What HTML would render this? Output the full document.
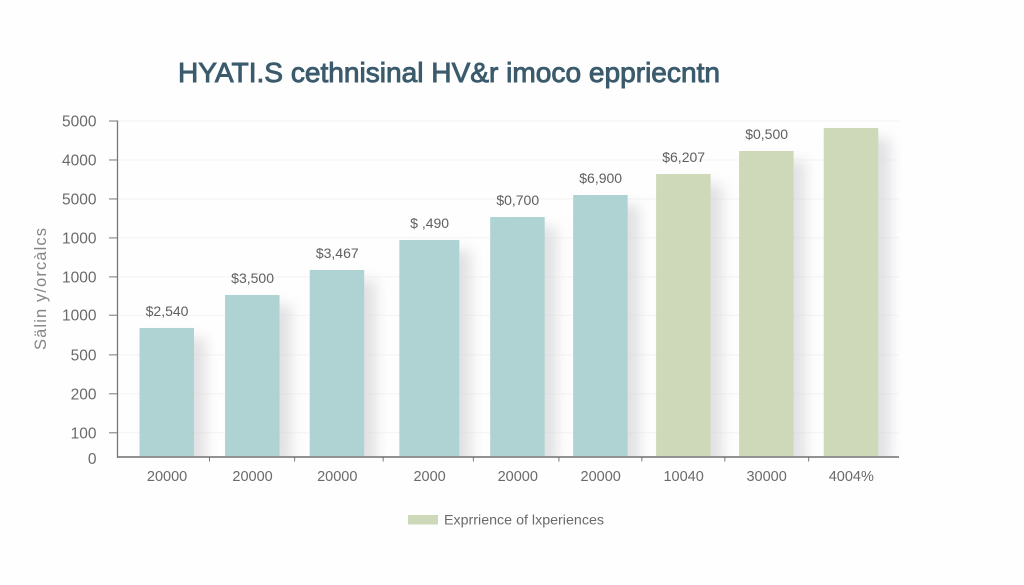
<!DOCTYPE html>
<html>
<head>
<meta charset="utf-8">
<title>Salary chart</title>
<style>
html,body{margin:0;padding:0;background:#fefefe;}
svg{display:block;}
text{font-family:"Liberation Sans",sans-serif;}
</style>
</head>
<body>
<svg id="chart" width="1024" height="585" viewBox="0 0 1024 585" xmlns="http://www.w3.org/2000/svg">
<defs>
<filter id="soft" x="-50%" y="-20%" width="200%" height="140%"><feGaussianBlur stdDeviation="6.5"/></filter>
<clipPath id="above-axis"><rect x="117" y="100" width="800" height="356"/></clipPath>
</defs>
<rect x="0" y="0" width="1024" height="585" fill="#fefefe"/>
<text x="178" y="82" font-size="28" fill="#3b5b6d" stroke="#3b5b6d" stroke-width="0.9" textLength="542" lengthAdjust="spacingAndGlyphs">HYATI.S cethnisinal HV&amp;r imoco eppriecntn</text>
<text transform="translate(46,350) rotate(-90)" font-size="16.5" fill="#858585" textLength="122" lengthAdjust="spacing">Sälin y/orcàlcs</text>
<g id="grid"></g>
<g id="shadows" clip-path="url(#above-axis)"></g>
<g id="bars"></g>
<g id="values"></g>
<g id="axes"></g>
<rect x="408" y="515" width="30" height="9.5" fill="#cdd9b8"/>
<text x="444" y="524.5" font-size="13.5" fill="#6a6a6a" textLength="160" lengthAdjust="spacingAndGlyphs">Exprrience of lxperiences</text>
</svg>
<script>
const categories = ["20000","20000","20000","2000","20000","20000","10040","30000","4004%"];
const experienceStops = [0, 1, 1.99, 3.07, 4.1, 5.07, 6.04, 7.01, 8];
const salaryValues = [1920, 2411, 2783, 3229, 3571, 3899, 4211, 4554, 4896];
const printedValues = ["$2,540","$3,500","$3,467","$ ,490","$0,700","$6,900","$6,207","$0,500",""];
const seriesGroups = ["teal","teal","teal","teal","teal","teal","green","green","green"];
const tickValues = [5000, 4420, 3840, 3260, 2680, 2110, 1520, 940, 360, 0];
const tickLabels = ["5000","4000","5000","1000","1000","1000","500","200","100","0"];

const NS = "http://www.w3.org/2000/svg";
const baseY = 457, plotTop = 121, maxValue = 5000;
const firstX = 166.75, lastX = 851;
const maxStop = 8;
function yScale(v){ return baseY - (v / maxValue) * (baseY - plotTop); }
function xScale(s){ return firstX + (s / maxStop) * (lastX - firstX); }
function make(tag, attrs, parent, content){
  const el = document.createElementNS(NS, tag);
  for (const k in attrs) el.setAttribute(k, attrs[k]);
  if (content !== undefined) el.textContent = content;
  parent.appendChild(el);
  return el;
}
const gridG = document.getElementById("grid");
const shadowG = document.getElementById("shadows");
const barG = document.getElementById("bars");
const valueG = document.getElementById("values");
const axisG = document.getElementById("axes");
const palette = {teal:"#afd3d3", green:"#cdd9b8"};

tickValues.forEach(function(v, i){
  const y = yScale(v);
  if (v > 0) {
    const line = make("line", {x1:118, x2:899, y1:y, y2:y, stroke:"#f3f3f3", "stroke-width":1}, gridG);
    
    
    const tick = make("line", {x1:109, x2:118, y1:y, y2:y, stroke:"#777", "stroke-width":1}, axisG);
    
    
  }
  const labelY = v > 0 ? y + 5.5 : y + 7;
  const label = make("text", {x:96.5, y:labelY, "text-anchor":"end", "font-size":15.5, fill:"#6a6a6a"}, axisG, tickLabels[i]);
  
  
});

salaryValues.forEach(function(v, i){
  const cx = xScale(experienceStops[i]);
  const w = i === 3 ? 60 : 54.5;
  const top = yScale(v);
  const shadow = make("rect", {x:cx - w/2 + 10, y:top + 10, width:w + 2, height:baseY - top, fill:"#cfcfd3", opacity:0.6, filter:"url(#soft)"}, shadowG);
  
  
  const bar = make("rect", {x:cx - w/2, y:top, width:w, height:baseY - top - 1, fill:palette[seriesGroups[i]]}, barG);
  
  
  if (printedValues[i]) {
    const val = make("text", {x:cx + 0.3, y:top - 12, "text-anchor":"middle", "font-size":14, fill:"#5f5f5f"}, valueG, printedValues[i]);
    
    
  }
  const cat = make("text", {x:cx + 0.3, y:481, "text-anchor":"middle", "font-size":14.5, fill:"#6a6a6a"}, axisG, categories[i]);
  
  
  if (i < salaryValues.length - 1) {
    const mid = (cx + xScale(experienceStops[i + 1])) / 2;
    const t = make("line", {x1:mid, x2:mid, y1:baseY, y2:baseY + 4.5, stroke:"#777", "stroke-width":1}, axisG);
    
    
  }
});

const yAxis = make("line", {x1:117.5, x2:117.5, y1:plotTop - 0.5, y2:baseY + 0.7, stroke:"#777", "stroke-width":1.3}, axisG);


const xAxis = make("line", {x1:117, x2:899, y1:baseY, y2:baseY, stroke:"#6f6f6f", "stroke-width":1.4}, axisG);


</script>
</body>
</html>
